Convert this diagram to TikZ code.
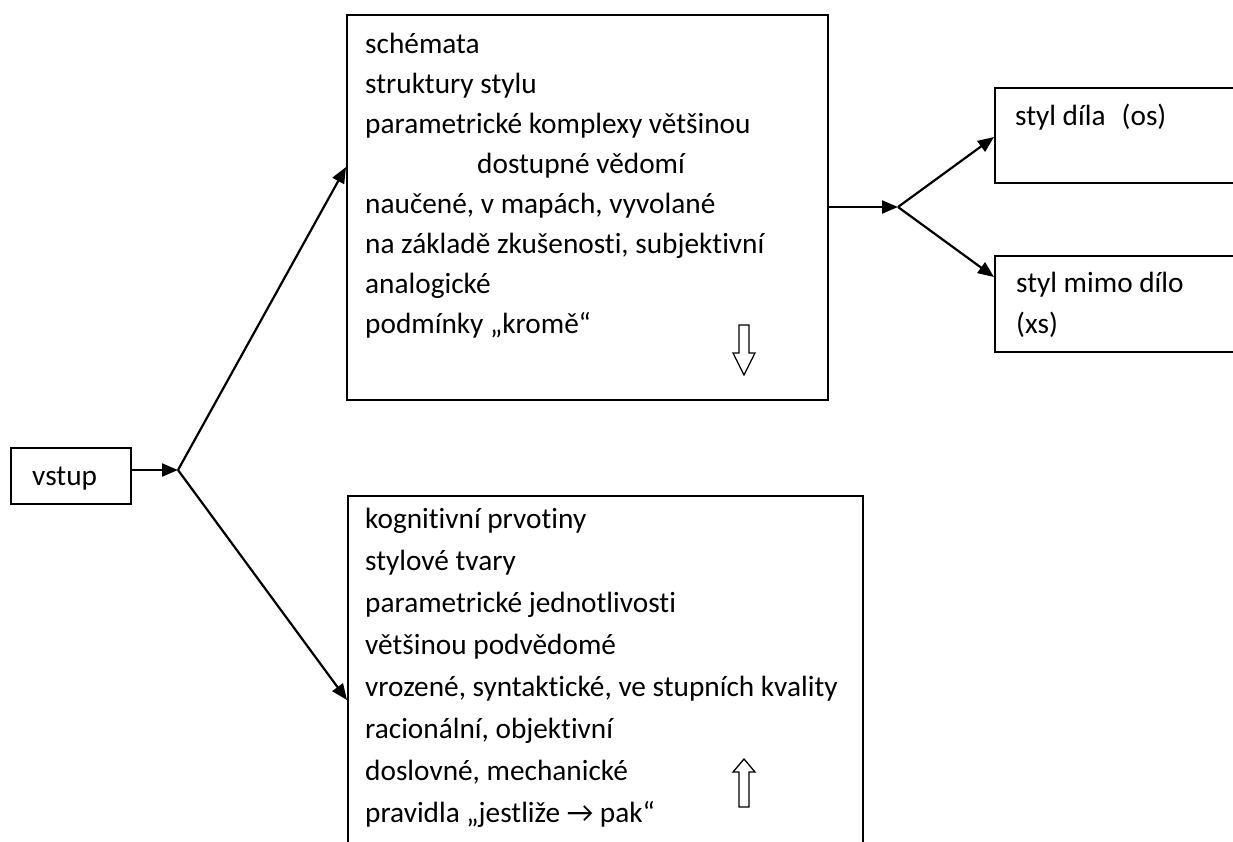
\documentclass[tikz,border=0pt]{standalone}
\usepackage{fontspec}
\setmainfont{Carlito}[Ligatures=NoCommon]
\usetikzlibrary{arrows.meta,calc}
\begin{document}
\begin{tikzpicture}[x=1pt,y=-1pt,
  box/.style={draw, line width=1.6pt, inner sep=0pt, anchor=north west},
  txt/.style={anchor=base west, inner sep=0pt, font=\fontsize{29.3}{35}\selectfont},
  conn/.style={line width=2.2pt, -{Triangle[length=16pt,width=13pt]}},
  hollow/.style={draw, line width=1.3pt, fill=white, line join=miter}]
\useasboundingbox (0,0) rectangle (1233,841);
\clip (0,0) rectangle (1233,841);

% boxes
\node[box, minimum width=120pt, minimum height=56pt] (vstup) at (10,447) {};
\node[box, minimum width=481pt, minimum height=385pt] (top) at (346,14) {};
\node[box, minimum width=515pt, minimum height=400pt] (bottom) at (347,495) {};
\node[box, minimum width=300pt, minimum height=95pt] (os) at (994,87) {};
\node[box, minimum width=300pt, minimum height=96pt] (xs) at (994,255) {};

% branching points
\coordinate (j1) at (178,470);
\coordinate (j2) at (898,207);

% connectors
\draw[conn] (vstup.east |- j1) -- (j1);
\draw[conn] (j1) -- ($(top.north west)+(0,153)$);
\draw[conn] (j1) -- ($(bottom.north west)+(0,205)$);
\draw[conn] (top.east |- j2) -- (j2);
\draw[conn] (j2) -- ($(os.north west)+(0,50)$);
\draw[conn] (j2) -- ($(xs.north west)+(0,22)$);

% texts
\node[txt] (tv) at (32,485) {vstup};

\node[txt] (a1) at (365,53) {schémata};
\node[txt] (a2) at (365,93) {struktury stylu};
\node[txt] (a3) at (365,133) {parametrické komplexy většinou};
\node[txt] (a4) at (477,173) {dostupné vědomí};
\node[txt] (a5) at (365,213) {naučené, v mapách, vyvolané};
\node[txt] (a6) at (365,253) {na základě zkušenosti, subjektivní};
\node[txt] (a7) at (365,293) {analogické};
\node[txt] (a8) at (365,333) {podmínky „kromě“};

\node[txt] (b1) at (365,528) {kognitivní prvotiny};
\node[txt] (b2) at (365,570) {stylové tvary};
\node[txt] (b3) at (365,612) {parametrické jednotlivosti};
\node[txt] (b4) at (365,654) {většinou podvědomé};
\node[txt] (b5) at (365,696) {vrozené, syntaktické, ve stupních kvality};
\node[txt] (b6) at (365,738) {racionální, objektivní};
\node[txt] (b7) at (365,780) {doslovné, mechanické};
\node[txt] (b8) at (365,822) {pravidla „jestliže → pak“};

\node[txt] (c1) at (1015,125) {styl díla\hspace{0.55em}(os)};
\node[txt] (d1) at (1016,292) {styl mimo dílo};
\node[txt] (d2) at (1016,333) {(xs)};

% hollow block arrows
\draw[hollow] (739,325) -- (749,325) -- (749,353) -- (755,353) -- (744,375)
  -- (733,353) -- (739,353) -- cycle;
\draw[hollow] (739,807) -- (749,807) -- (749,772) -- (755,772) -- (744,759)
  -- (733,772) -- (739,772) -- cycle;
\end{tikzpicture}
\end{document}
